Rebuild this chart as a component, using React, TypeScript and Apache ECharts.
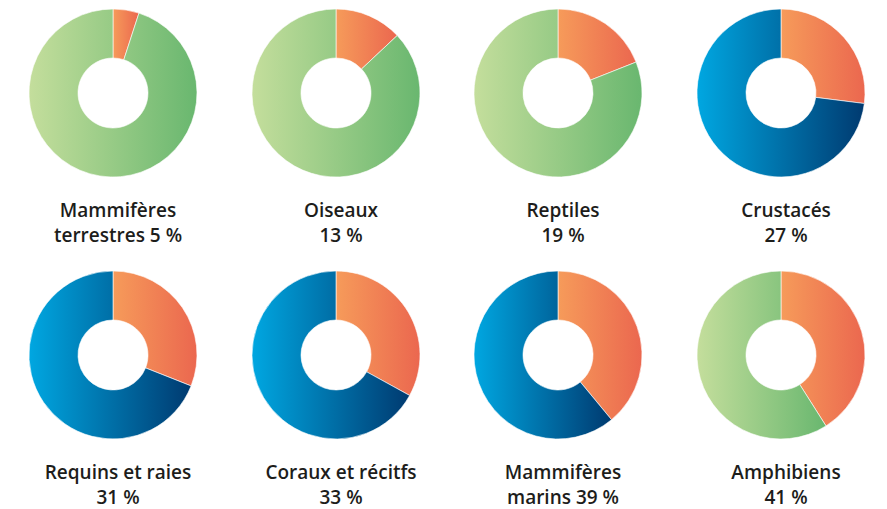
import React, { useEffect, useRef } from "react";
import * as echarts from "echarts";

const labelsLine1 = ["Mammifères", "Oiseaux", "Reptiles", "Crustacés", "Requins et raies", "Coraux et récitfs", "Mammifères", "Amphibiens"];
const labelsLine2 = ["terrestres 5 %", "13 %", "19 %", "27 %", "31 %", "33 %", "marins 39 %", "41 %"];
const shares = [5, 13, 19, 27, 31, 33, 39, 41];
const restKind = ["green", "green", "green", "blue", "blue", "blue", "blue", "green"];

const grad = (a: string, b: string) =>
  new echarts.graphic.LinearGradient(0, 0, 1, 0, [
    { offset: 0, color: a },
    { offset: 1, color: b },
  ]);

export default function App() {
  const ref = useRef<HTMLDivElement>(null);
  useEffect(() => {
    const chart = echarts.init(ref.current!, null, { renderer: "svg" });
    const colsX = [113, 336, 558, 781];
    const rowsY = [93, 355];
    const series: any[] = [];
    const titles: any[] = [];
    shares.forEach((v, i) => {
      const cx = colsX[i % 4];
      const cy = rowsY[Math.floor(i / 4)];
      const rest = restKind[i] === "green" ? grad("#c4de9c", "#69b76f") : grad("#00a7e1", "#003a70");
      series.push({
        type: "pie",
        center: [cx, cy],
        radius: [35, 84],
        startAngle: 90,
        clockwise: true,
        silent: true,
        label: { show: false },
        labelLine: { show: false },
        itemStyle: { borderColor: "#ffffff", borderWidth: 0.6 },
        data: [
          { name: "a", value: v, itemStyle: { color: grad("#f69b5a", "#eb674f") } },
          { name: "b", value: 100 - v, itemStyle: { color: rest } },
        ],
      });
      titles.push({
        text: labelsLine1[i] + "\n" + labelsLine2[i],
        left: cx,
        top: cy + 99,
        textAlign: "center",
        textStyle: {
          fontFamily: "Open Sans",
          fontWeight: 600,
          fontSize: 19,
          lineHeight: 25,
          color: "#1d1d1b",
          align: "center",
        },
      });
    });
    chart.setOption({ animation: false, title: titles, series });
    return () => chart.dispose();
  }, []);
  return <div ref={ref} style={{ width: 887, height: 509, position: "absolute", left: 0, top: 0 }} />;
}
